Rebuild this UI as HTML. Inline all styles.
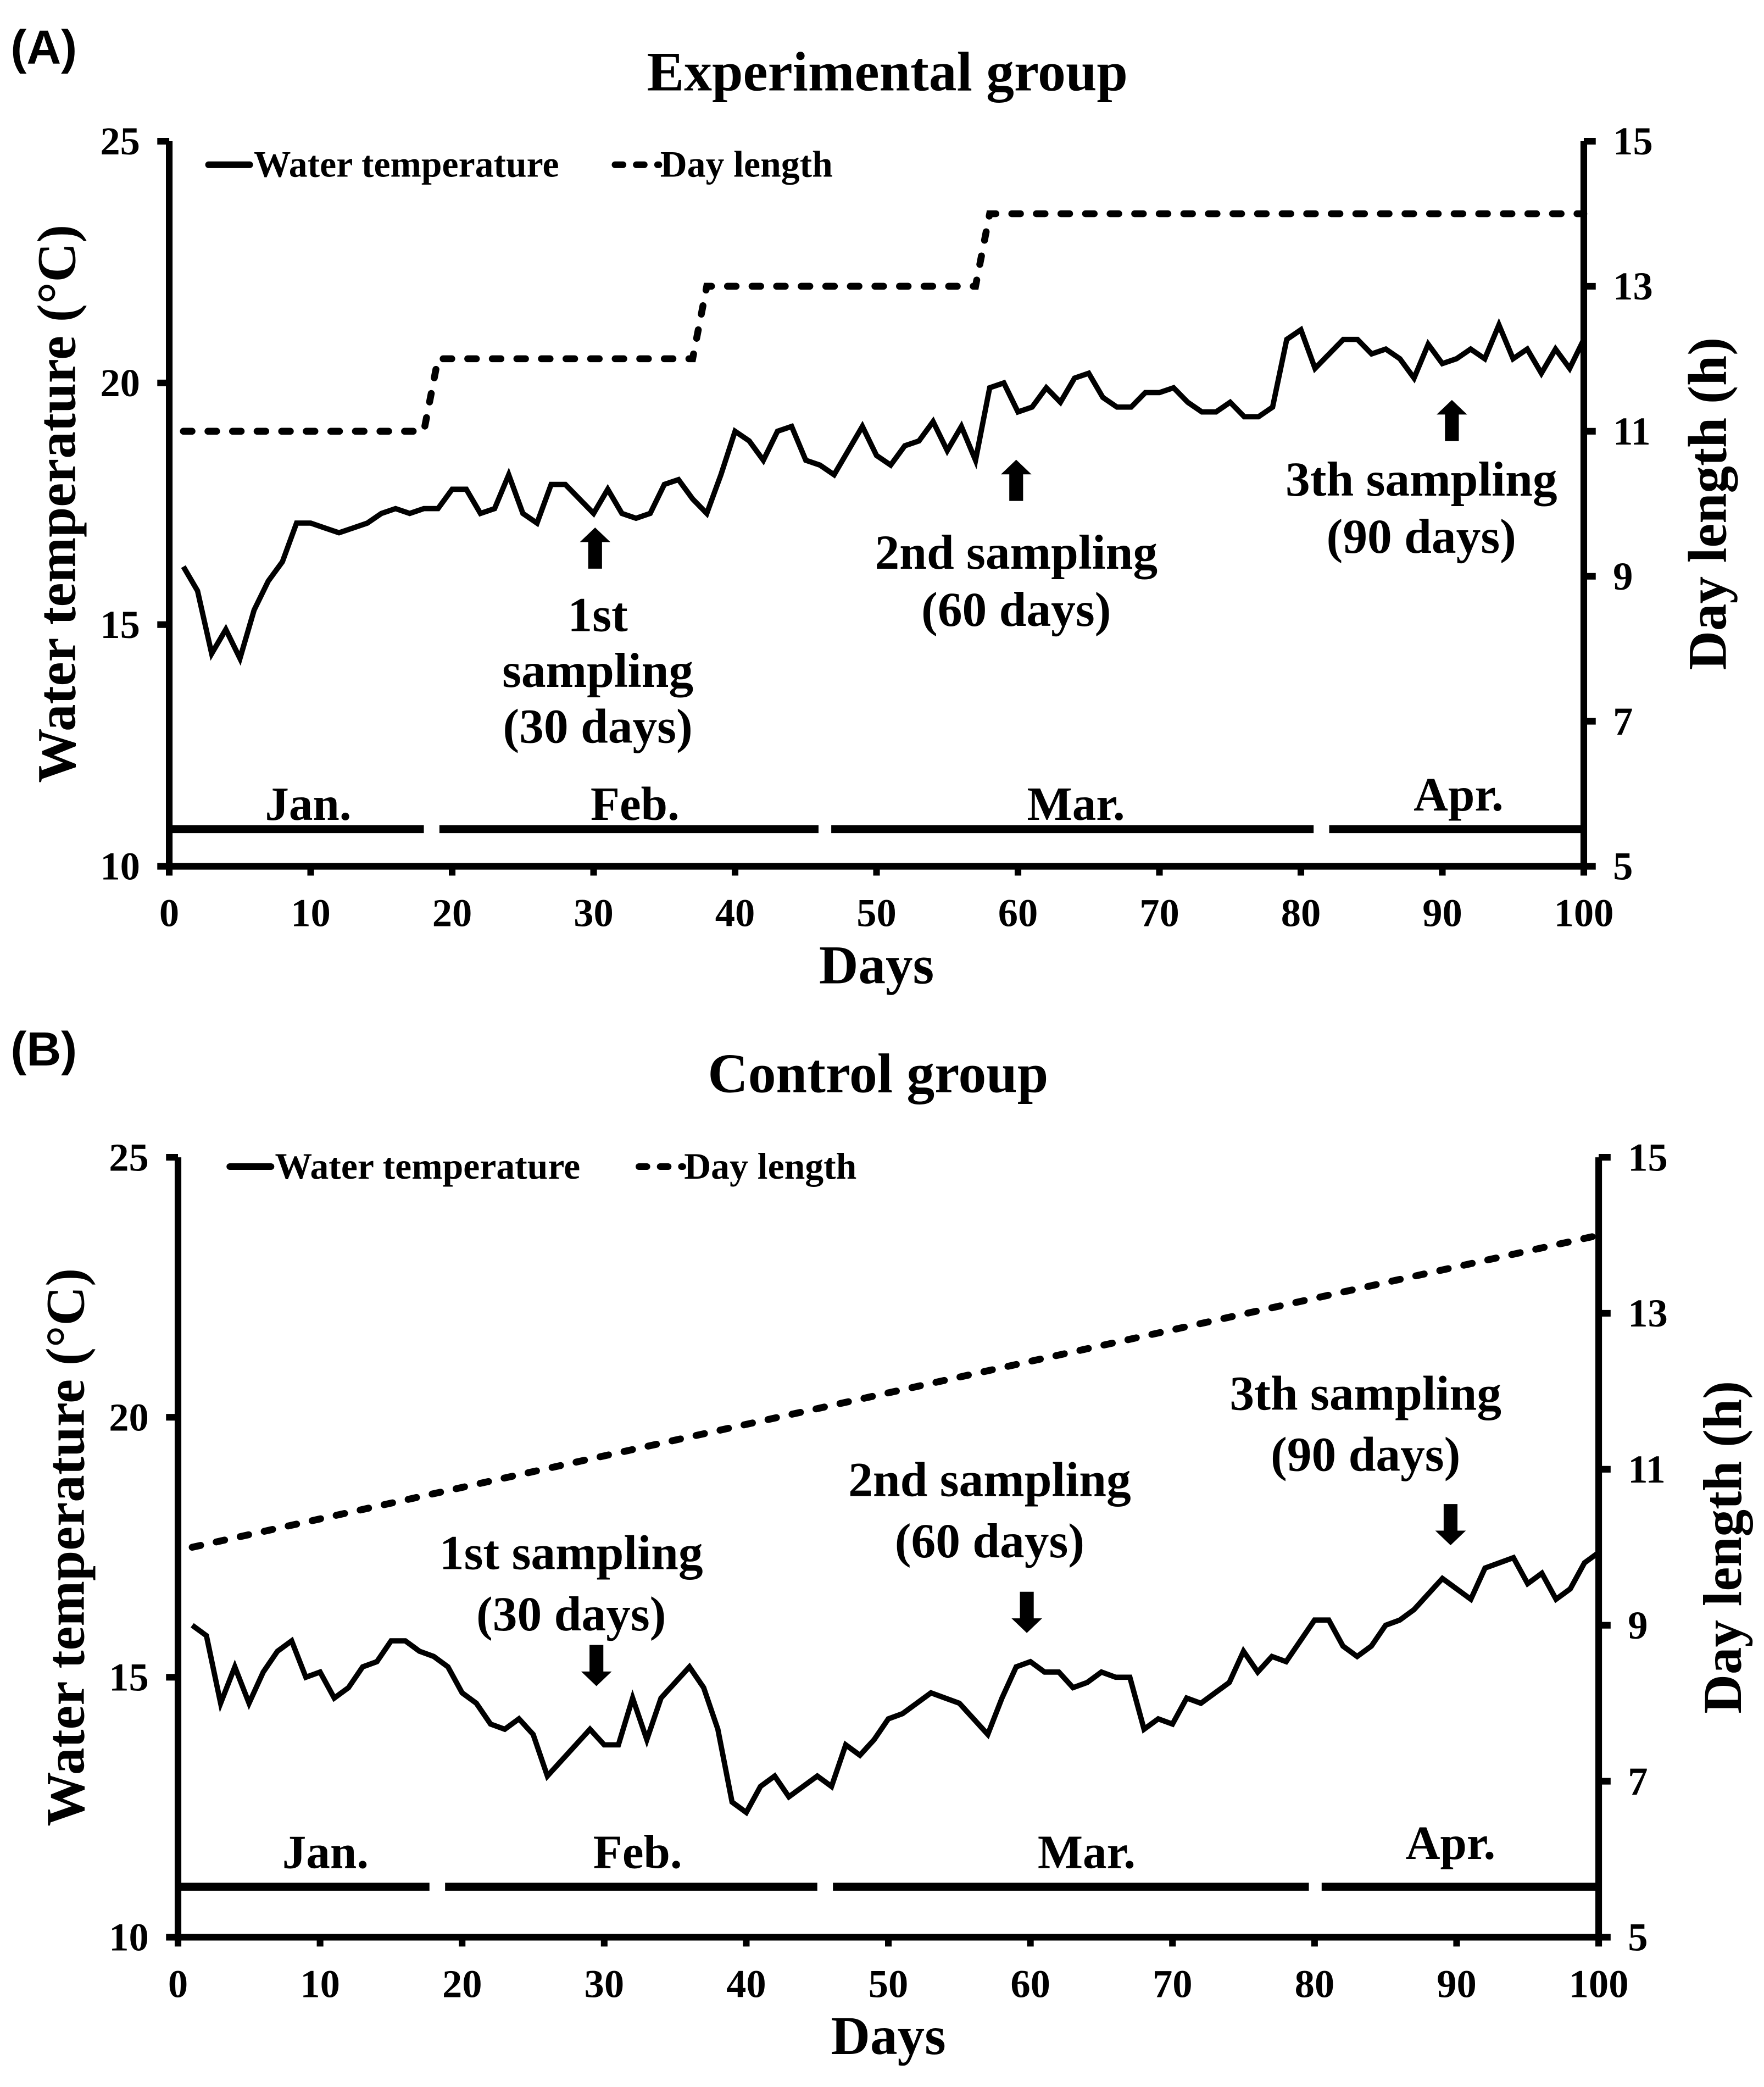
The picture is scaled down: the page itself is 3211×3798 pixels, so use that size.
<!DOCTYPE html>
<html><head><meta charset="utf-8"><style>
html,body{margin:0;padding:0;background:#fff;}
svg{display:block;}
text{font-family:"Liberation Serif",serif;font-weight:bold;fill:#000;}
</style></head><body>
<svg id="fig" width="3211" height="3798" viewBox="0 0 3211 3798" xmlns="http://www.w3.org/2000/svg">
<g id="root" transform="scale(2.418)"></g>
</svg>
<script>
const days = Array.from({length:100},(_,i)=>i+1);
const tempA = [16.2,15.7,14.4,14.9,14.3,15.3,15.9,16.3,17.1,17.1,17.0,16.9,17.0,17.1,17.3,17.4,17.3,17.4,17.4,17.8,
17.8,17.3,17.4,18.1,17.3,17.1,17.9,17.9,17.6,17.3,17.8,17.3,17.2,17.3,17.9,18.0,17.6,17.3,18.1,19.0,
18.8,18.4,19.0,19.1,18.4,18.3,18.1,18.6,19.1,18.5,18.3,18.7,18.8,19.2,18.6,19.1,18.4,19.9,20.0,19.4,
19.5,19.9,19.6,20.1,20.2,19.7,19.5,19.5,19.8,19.8,19.9,19.6,19.4,19.4,19.6,19.3,19.3,19.5,20.9,21.1,
20.3,20.6,20.9,20.9,20.6,20.7,20.5,20.1,20.8,20.4,20.5,20.7,20.5,21.2,20.5,20.7,20.2,20.7,20.3,20.9];
const dayLenADays = [1,18,19,37,38,57,58,100];
const dayLenAVals = [11,11,12,12,13,13,14,14];
const tempB = [16.0,15.8,14.5,15.2,14.5,15.1,15.5,15.7,15.0,15.1,14.6,14.8,15.2,15.3,15.7,15.7,15.5,15.4,15.2,14.7,
14.5,14.1,14.0,14.2,13.9,13.1,13.4,13.7,14.0,13.7,13.7,14.6,13.8,14.6,14.9,15.2,14.8,14.0,12.6,12.4,
12.9,13.1,12.7,12.9,13.1,12.9,13.7,13.5,13.8,14.2,14.3,14.5,14.7,14.6,14.5,14.2,13.9,14.6,15.2,15.3,
15.1,15.1,14.8,14.9,15.1,15.0,15.0,14.0,14.2,14.1,14.6,14.5,14.7,14.9,15.5,15.1,15.4,15.3,15.7,16.1,
16.1,15.6,15.4,15.6,16.0,16.1,16.3,16.6,16.9,16.7,16.5,17.1,17.2,17.3,16.8,17.0,16.5,16.7,17.2,17.4];
const dayLenBDays = [1,100];
const dayLenBVals = [10,14];
const xTicks = [0,10,20,30,40,50,60,70,80,90,100];
const leftTicks = [10,15,20,25];
const rightTicks = [5,7,9,11,13,15];
const months = ["Jan.","Feb.","Mar.","Apr."];
const monthStartA = [0,19.1,46.8,82], monthEndA = [18,45.9,80.9,100];
const monthStartB = [0,18.8,46.1,80.5], monthEndB = [17.7,45,79.6,100];

const NS="http://www.w3.org/2000/svg";
const root=document.getElementById('root');
function mk(tag,attrs,parent,txt){const e=document.createElementNS(NS,tag);for(const k in attrs)e.setAttribute(k,attrs[k]);if(txt!==undefined)e.textContent=txt;(parent||root).appendChild(e);return e;}

function arrow(g,x,yTip,dir){
  const hw=11.5, sw=5.2, hh=11, L=31;
  const yEnd=yTip - dir*L, yBase=yTip - dir*hh;
  const p=`M${x},${yTip} L${x-hw},${yBase} L${x-sw},${yBase} L${x-sw},${yEnd} L${x+sw},${yEnd} L${x+sw},${yBase} L${x+hw},${yBase} Z`;
  const a=mk('path',{d:p,fill:'#000'},g);
  
  
}

function panel(cfg){
  const g=mk('g',{});
  
  
  const {x0,x1,yT,yB}=cfg;
  const X=d=>x0+(x1-x0)*d/100;
  const YL=v=>yB-(yB-yT)*(v-10)/15;
  const YR=v=>yB-(yB-yT)*(v-5)/10;
  let t=mk('text',{x:8,y:cfg.labY,'font-size':36,style:'font-family:"Liberation Sans",sans-serif'},g,cfg.label);
  
  t=mk('text',{x:cfg.titleX,y:cfg.titleY,'font-size':42,'text-anchor':'middle'},g,cfg.title);
  
  const ax=mk('path',{d:`M${x0},${yT} L${x0},${yB} L${x1},${yB} M${x1},${yT} L${x1},${yB}`,stroke:'#000','stroke-width':5,fill:'none'},g);
  
  leftTicks.forEach(v=>{
    mk('line',{x1:x0-9,x2:x0,y1:YL(v),y2:YL(v),stroke:'#000','stroke-width':5},g);
    const l=mk('text',{x:x0-22,y:YL(v)+10,'font-size':30,'text-anchor':'end'},g,v);
    
  });
  rightTicks.forEach(v=>{
    mk('line',{x1:x1,x2:x1+9,y1:YR(v),y2:YR(v),stroke:'#000','stroke-width':5},g);
    const l=mk('text',{x:x1+22,y:YR(v)+10,'font-size':30},g,v);
    
  });
  xTicks.forEach(v=>{
    mk('line',{x1:X(v),x2:X(v),y1:yB,y2:yB+7,stroke:'#000','stroke-width':5},g);
    const l=mk('text',{x:X(v),y:yB+45,'font-size':30,'text-anchor':'middle'},g,v);
    
  });
  const midY=(yT+yB)/2;
  t=mk('text',{x:0,y:0,'font-size':41,'text-anchor':'middle',transform:`translate(${x0-71},${midY}) rotate(-90)`},g,'Water temperature (°C)');
  
  t=mk('text',{x:0,y:0,'font-size':41,'text-anchor':'middle',transform:`translate(${x1+107},${midY}) rotate(-90)`},g,'Day length (h)');
  
  t=mk('text',{x:(x0+x1)/2,y:yB+88,'font-size':41,'text-anchor':'middle'},g,'Days');
  
  months.forEach((m,i)=>{
    const b=mk('line',{x1:X(cfg.mS[i]),x2:X(cfg.mE[i]),y1:cfg.mBarY,y2:cfg.mBarY,stroke:'#000','stroke-width':6},g);
    
    const l=mk('text',{x:cfg.mLabX[i],y:cfg.mLabY[i],'font-size':36,'text-anchor':'middle'},g,m);
    
  });
  let d='';
  cfg.dlD.forEach((dd,i)=>{d+=(i?'L':'M')+X(dd)+','+YR(cfg.dlV[i]);});
  const dl=mk('path',{d:d,stroke:'#000','stroke-width':5.2,fill:'none','stroke-dasharray':'6.5 12','stroke-linecap':'round'},g);
  
  d='';
  days.forEach((dd,i)=>{d+=(i?'L':'M')+X(dd)+','+YL(cfg.temp[i]);});
  const tl=mk('path',{d:d,stroke:'#000','stroke-width':4,fill:'none','stroke-linejoin':'miter'},g);
  
  const lg=mk('g',{},g);
  
  mk('line',{x1:cfg.legX+2,x2:cfg.legX+33,y1:cfg.legY,y2:cfg.legY,stroke:'#000','stroke-width':5,'stroke-linecap':'round'},lg);
  mk('text',{x:cfg.legX+36,y:cfg.legY+9,'font-size':28},lg,'Water temperature');
  mk('line',{x1:cfg.legX2+2,x2:cfg.legX2+35,y1:cfg.legY,y2:cfg.legY,stroke:'#000','stroke-width':5,'stroke-dasharray':'6 10','stroke-linecap':'round'},lg);
  mk('text',{x:cfg.legX2+36,y:cfg.legY+9,'font-size':28},lg,'Day length');
  cfg.ann.forEach(a=>{
    a.lines.forEach((s,i)=>{
      const l=mk('text',{x:a.x,y:a.y+i*a.lh,'font-size':37,'text-anchor':'middle'},g,s);
      
    });
    arrow(g,a.ax,a.tip,a.dir);
  });
}

panel({name:'panel-a-experimental',label:'(A)',labY:48,title:'Experimental group',titleX:668,titleY:68,
 x0:127.4,x1:1192.3,yT:106.3,yB:652,temp:tempA,dlD:dayLenADays,dlV:dayLenAVals,
 mS:monthStartA,mE:monthEndA,mBarY:624,mLabX:[232,478,810,1098],mLabY:[617,617,617,610],
 legX:155,legX2:461,legY:124,
 ann:[{lines:['1st','sampling','(30 days)'],x:450,y:475,lh:42,ax:448,tip:397,dir:-1},
      {lines:['2nd sampling','(60 days)'],x:765,y:428,lh:43,ax:765,tip:346,dir:-1},
      {lines:['3th sampling','(90 days)'],x:1070,y:373,lh:43,ax:1093,tip:301,dir:-1}]});
panel({name:'panel-b-control',label:'(B)',labY:802,title:'Control group',titleX:661,titleY:822,
 x0:134,x1:1203.5,yT:871,yB:1458,temp:tempB,dlD:dayLenBDays,dlV:dayLenBVals,
 mS:monthStartB,mE:monthEndB,mBarY:1420,mLabX:[245,480,818,1092],mLabY:[1406,1406,1406,1399],
 legX:171,legX2:479,legY:878,
 ann:[{lines:['1st sampling','(30 days)'],x:430,y:1181,lh:46,ax:449,tip:1269,dir:1},
      {lines:['2nd sampling','(60 days)'],x:745,y:1126,lh:46,ax:773,tip:1229,dir:1},
      {lines:['3th sampling','(90 days)'],x:1028,y:1061,lh:46,ax:1092,tip:1163,dir:1}]});
</script>
</body></html>
